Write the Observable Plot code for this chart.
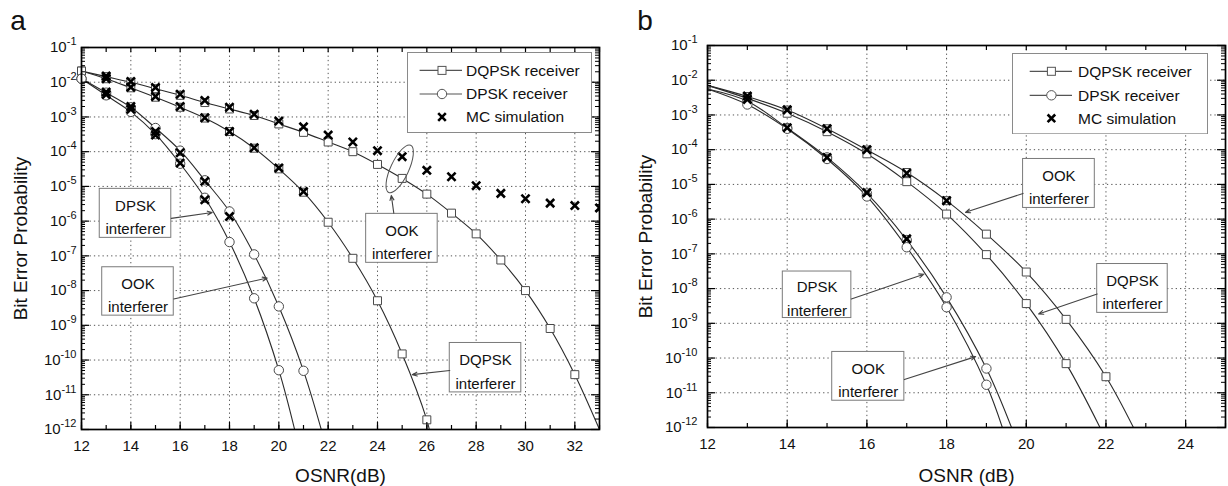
<!DOCTYPE html>
<html><head><meta charset="utf-8">
<script src="https://cdn.jsdelivr.net/npm/d3@7"></script>
<script src="https://cdn.jsdelivr.net/npm/@observablehq/plot@0.6"></script>
<style>
body{margin:0;background:#fff;}
#wrap{position:relative;width:1228px;height:486px;overflow:hidden;font-family:"Liberation Sans",Arial,Helvetica,sans-serif;}
#wrap svg{position:absolute;top:0;}
</style></head><body><div id="wrap"></div>
<script>
// ---------------- Panel a data ----------------
// DQPSK receiver, OOK interferer
const aOsnr1 = [12,13,14,15,16,17,18,19,20,21,22,23,24,25,26,27,28,29,30,31,32];
const aBer1  = [2.1e-2,1.45e-2,1.0e-2,6.5e-3,4.2e-3,2.6e-3,1.7e-3,1.1e-3,6.3e-4,3.6e-4,1.9e-4,1.0e-4,4.3e-5,1.7e-5,6.0e-6,1.7e-6,4.3e-7,7.6e-8,1.0e-8,8.1e-10,3.8e-11];
const aEnd1  = [33, 1.0e-12];
// DQPSK receiver, DQPSK interferer
const aOsnr2 = [12,13,14,15,16,17,18,19,20,21,22,23,24,25,26];
const aBer2  = [2.1e-2,1.26e-2,6.9e-3,3.7e-3,1.9e-3,9.3e-4,3.8e-4,1.26e-4,3.2e-5,6.8e-6,9.3e-7,8.5e-8,5.1e-9,1.5e-10,1.9e-12];
const aEnd2  = [26.1, 1.0e-12];
// DPSK receiver, OOK interferer
const aOsnr3 = [12,13,14,15,16,17,18,19,20,21];
const aBer3  = [1.26e-2,5.0e-3,1.9e-3,4.8e-4,1.07e-4,1.5e-5,1.9e-6,1.1e-7,3.5e-9,4.9e-11];
const aEnd3  = [21.72, 1.0e-12];
// DPSK receiver, DPSK interferer
const aOsnr4 = [12,13,14,15,16,17,18,19,20];
const aBer4  = [1.26e-2,4.2e-3,1.4e-3,3.2e-4,4.5e-5,4.7e-6,2.5e-7,6.0e-9,5.1e-11];
const aEnd4  = [20.64, 1.0e-12];
// MC simulation
const aMcOsnr1 = [13,14,15,16,17,18,19,20,21,22,23,24,25,26,27,28,29,30,31,32,33];
const aMcBer1  = [1.5e-2,1.05e-2,7.1e-3,4.5e-3,3.0e-3,1.9e-3,1.2e-3,7.6e-4,5.2e-4,3.0e-4,1.9e-4,1.07e-4,7.2e-5,2.9e-5,1.9e-5,1.05e-5,6.3e-6,4.4e-6,3.3e-6,2.8e-6,2.4e-6];
const aMcOsnr2 = [13,14,15,16,17,18,19,20,21];
const aMcBer2  = [1.26e-2,7.2e-3,3.9e-3,2.0e-3,9.5e-4,3.8e-4,1.3e-4,3.4e-5,7.1e-6];
const aMcOsnr3 = [13,14,15,16,17,18];
const aMcBer3  = [5.2e-3,2.0e-3,3.8e-4,9.3e-5,1.4e-5,1.35e-6];
const aMcOsnr4 = [13,14,15,16,17];
const aMcBer4  = [4.4e-3,1.66e-3,3.0e-4,4.7e-5,4.1e-6];

// ---------------- Panel b data ----------------
// DQPSK receiver, OOK interferer
const bStart1 = [12, 7.1e-3];
const bOsnr1 = [13,14,15,16,17,18,19,20,21,22];
const bBer1  = [3.4e-3,1.38e-3,4.0e-4,9.8e-5,2.2e-5,3.4e-6,3.7e-7,3.0e-8,1.3e-9,2.9e-11];
const bEnd1  = [22.69, 1.0e-12];
// DQPSK receiver, DQPSK interferer
const bStart2 = [12, 7.1e-3];
const bOsnr2 = [13,14,15,16,17,18,19,20,21];
const bBer2  = [3.0e-3,1.12e-3,3.3e-4,7.6e-5,1.2e-5,1.4e-6,9.5e-8,3.7e-9,6.9e-11];
const bEnd2  = [21.85, 1.0e-12];
// DPSK receiver, OOK interferer
const bStart3 = [12, 5.6e-3];
const bOsnr3 = [13,14,15,16,17,18,19];
const bBer3  = [2.5e-3,4.2e-4,6.0e-5,5.5e-6,2.5e-7,5.6e-9,5.0e-11];
const bEnd3  = [19.63, 1.0e-12];
// DPSK receiver, DPSK interferer
const bStart4 = [12, 5.6e-3];
const bOsnr4 = [13,14,15,16,17,18,19];
const bBer4  = [2.0e-3,4.0e-4,5.4e-5,4.5e-6,1.55e-7,2.9e-9,1.7e-11];
const bEnd4  = [19.4, 1.0e-12];
// MC simulation
const bMcOsnr1 = [13,14,15,16,17,18];
const bMcBer1  = [3.5e-3,1.4e-3,4.0e-4,1.0e-4,2.1e-5,3.4e-6];
const bMcOsnr3 = [13,14,15,16,17];
const bMcBer3  = [2.8e-3,4.3e-4,6.0e-5,5.8e-6,2.7e-7];

// ---------------- Axes / labels ----------------
const decades = [1e-12,1e-11,1e-10,1e-9,1e-8,1e-7,1e-6,1e-5,1e-4,1e-3,1e-2,1e-1];
const aXTicks = [12,14,16,18,20,22,24,26,28,30,32];
const bXTicks = [12,14,16,18,20,22,24];
const legendLabels = ["DQPSK receiver","DPSK receiver","MC simulation"];
const yTitle = "Bit Error Probability";

// annotations (data coordinates: OSNR, BER)
const aNotes = [
  {label:"DPSK\ninterferer", x1:12.74, x2:15.64, y1:8.5e-6, y2:3.3e-7, ax1:15.64, ay1:1.2e-6, ax2:17.30, ay2:1.78e-6},
  {label:"OOK\ninterferer", x1:12.84, x2:15.74, y1:4.7e-8, y2:1.9e-9, ax1:15.74, ay1:5.75e-9, ax2:19.53, ay2:2.3e-8},
  {label:"OOK\ninterferer", x1:23.54, x2:26.44, y1:1.62e-6, y2:6.3e-8, ax1:24.66, ay1:1.7e-6, ax2:24.56, ay2:5.5e-6},
  {label:"DQPSK\ninterferer", x1:26.93, x2:29.83, y1:3.1e-10, y2:1.17e-11, ax1:26.93, ay1:5.0e-11, ax2:25.41, ay2:3.8e-11}
];
const aEllipse = [{x:24.9, y:3.2e-5}];
const bNotes = [
  {label:"OOK\ninterferer", x1:19.92, x2:21.72, y1:5.4e-5, y2:2.1e-6, ax1:19.92, ay1:5.5e-6, ax2:18.475, ay2:1.57e-6},
  {label:"DPSK\ninterferer", x1:13.89, x2:15.61, y1:3.1e-8, y2:1.42e-9, ax1:15.61, ay1:5.0e-9, ax2:17.43, ay2:2.6e-8},
  {label:"OOK\ninterferer", x1:15.13, x2:16.94, y1:1.5e-10, y2:5.9e-12, ax1:16.94, ay1:2.4e-11, ax2:18.73, ay2:1.1e-10},
  {label:"DQPSK\ninterferer", x1:21.78, x2:23.55, y1:5.1e-8, y2:2.0e-9, ax1:21.78, ay1:7.0e-9, ax2:20.31, ay2:1.86e-9}
];

// ---------------- Drawing ----------------
const FONT = '"Liberation Sans", Arial, Helvetica, sans-serif';
const minorY = d3.scaleLog().domain([1e-12,1e-1]).ticks(30)
  .filter(d => Math.abs(Math.log10(d) - Math.round(Math.log10(d))) > 1e-6);

const ellipseSymbol = {
  draw(ctx) {
    const rx = 9, ry = 26, k = 0.5523;
    ctx.moveTo(0, -ry);
    ctx.bezierCurveTo(k*rx, -ry, rx, -k*ry, rx, 0);
    ctx.bezierCurveTo(rx, k*ry, k*rx, ry, 0, ry);
    ctx.bezierCurveTo(-k*rx, ry, -rx, k*ry, -rx, 0);
    ctx.bezierCurveTo(-rx, -k*ry, -k*rx, -ry, 0, -ry);
    ctx.closePath();
  }
};

function pts(osnr, ber) { return osnr.map((x, i) => ({x, y: ber[i]})); }

function panel(cfg) {
  const {left, width, height, mt, mr, mb, ml, xDomain, xTicks, curves, mcs, notes, ellipses,
         letter, letterDx, letterDy, xTitle, xTitleDy, yTitleDx, yPad} = cfg;
  const FH = height - mt - mb, FW = width - ml - mr;
  const lineData = curves.flatMap((c, k) => {
    const p = [];
    if (c.start) p.push({x: c.start[0], y: c.start[1], k});
    c.osnr.forEach((x, i) => p.push({x, y: c.ber[i], k}));
    if (c.end) p.push({x: c.end[0], y: c.end[1], k});
    return p;
  });
  const squares = curves.filter(c => c.kind === "square").flatMap(c => pts(c.osnr, c.ber));
  const circles = curves.filter(c => c.kind === "circle").flatMap(c => pts(c.osnr, c.ber));
  const crosses = mcs.flatMap(m => pts(m.osnr, m.ber));
  const allX = d3.range(xDomain[0], xDomain[1] + 1);
  const gridX = xTicks.filter(x => x > xDomain[0] && x < xDomain[1]);
  const gridY = decades.filter(d => d > 1e-12 && d < 1e-1);
  const tickStyle = {stroke: "#000", strokeWidth: 1.2};

  const svg = Plot.plot({
    width, height, marginTop: mt, marginRight: mr, marginBottom: mb, marginLeft: ml,
    style: {fontFamily: FONT, background: "transparent", color: "#111"},
    x: {domain: xDomain, label: null},
    y: {type: "log", domain: [1e-12, 1e-1], label: null},
    marks: [
      Plot.ruleX(gridX, {x: d => d, stroke: "#555", strokeWidth: 1, strokeDasharray: "1.3,3"}),
      Plot.ruleY(gridY, {y: d => d, stroke: "#555", strokeWidth: 1, strokeDasharray: "1.3,3"}),
      Plot.line(lineData, {x: "x", y: "y", z: "k", curve: "catmull-rom", stroke: "#2a2a2a", strokeWidth: 1.1, clip: true}),
      Plot.rect(notes, {x1: "x1", x2: "x2", y1: "y1", y2: "y2", fill: "white", stroke: "#7a7a7a", strokeWidth: 1}),
      Plot.text(notes, {x: d => (d.x1 + d.x2) / 2, y: d => Math.sqrt(d.y1 * d.y2), text: "label",
        fontSize: 15, lineHeight: 1.58, dy: 1.5, fill: "#111"}),
      Plot.arrow(notes, {x1: "ax1", y1: "ay1", x2: "ax2", y2: "ay2", stroke: "#444", strokeWidth: 1.1, headLength: 7, headAngle: 45}),
      Plot.dot(squares, {x: "x", y: "y", symbol: "square", r: 4.5, fill: "white", stroke: "#4a4a4a", strokeWidth: 1}),
      Plot.dot(circles, {x: "x", y: "y", symbol: "circle", r: 4.7, fill: "white", stroke: "#4a4a4a", strokeWidth: 1}),
      Plot.dot(crosses, {x: "x", y: "y", symbol: "times", r: 3.8, stroke: "#000", strokeWidth: 2.6, clip: true}),
      Plot.dot(ellipses, {x: "x", y: "y", symbol: ellipseSymbol, rotate: 25, fill: "none", stroke: "#555", strokeWidth: 1}),
      // inward ticks
      Plot.ruleX(allX, {x: d => d, insetTop: FH - 4, ...tickStyle}),
      Plot.ruleX(xTicks, {x: d => d, insetTop: FH - 7, ...tickStyle}),
      Plot.ruleX(allX, {x: d => d, insetBottom: FH - 5, ...tickStyle}),
      Plot.ruleY(minorY, {y: d => d, insetRight: FW - 4, stroke: "#000", strokeWidth: 1}),
      Plot.ruleY(decades, {y: d => d, insetRight: FW - 8, ...tickStyle}),
      Plot.ruleY(minorY, {y: d => d, insetLeft: FW - 4, stroke: "#000", strokeWidth: 1}),
      Plot.ruleY(decades, {y: d => d, insetLeft: FW - 8, ...tickStyle}),
      Plot.frame({stroke: "#000", strokeWidth: 1.7}),
      Plot.axisX(xTicks, {anchor: "bottom", tickSize: 0, tickPadding: 11, fontSize: 15, label: null}),
      Plot.axisY(decades, {anchor: "left", tickSize: 0, tickPadding: yPad, fontSize: 15, label: null,
        tickFormat: d => String(Math.round(Math.log10(d)))}),
      Plot.text([xTitle], {frameAnchor: "bottom", dy: xTitleDy, fontSize: 19, textAnchor: "middle", lineAnchor: "middle", fill: "#111"}),
      Plot.text([yTitle], {frameAnchor: "left", dx: yTitleDx, rotate: -90, fontSize: 19, textAnchor: "middle", lineAnchor: "middle", fill: "#111"}),
      Plot.text([letter], {frameAnchor: "top-left", dx: letterDx, dy: letterDy, fontSize: 28, textAnchor: "middle", lineAnchor: "middle", fill: "#111"})
    ]
  });
  // superscript exponents on the y tick labels
  const ns = "http://www.w3.org/2000/svg";
  svg.querySelectorAll('[aria-label="y-axis tick label"] text').forEach(t => {
    const e = t.textContent;
    t.textContent = "10";
    const ts = document.createElementNS(ns, "tspan");
    ts.setAttribute("dy", "-7");
    ts.setAttribute("font-size", "11");
    ts.textContent = e;
    t.appendChild(ts);
  });
  svg.style.left = left + "px";
  return svg;
}

function legend(left, top, w, h, rowsY, lx1, lx2, mx, tx) {
  const kinds = ["square", "circle", "cross"];
  let s = `<svg width="${w}" height="${h}" style="left:${left}px;top:${top}px" xmlns="http://www.w3.org/2000/svg">`;
  s += `<rect x="0.5" y="0.5" width="${w - 1}" height="${h - 1}" fill="white" stroke="#8a8a8a" stroke-width="1"/>`;
  legendLabels.forEach((lab, i) => {
    const y = rowsY[i], kind = kinds[i];
    if (kind !== "cross") s += `<line x1="${lx1}" x2="${lx2}" y1="${y}" y2="${y}" stroke="#555" stroke-width="1.2"/>`;
    if (kind === "square") s += `<rect x="${mx - 4}" y="${y - 4}" width="8" height="8" fill="white" stroke="#555"/>`;
    if (kind === "circle") s += `<circle cx="${mx}" cy="${y}" r="4.7" fill="white" stroke="#555"/>`;
    if (kind === "cross") s += `<path d="M${mx - 3.8},${y - 3.8}L${mx + 3.8},${y + 3.8}M${mx - 3.8},${y + 3.8}L${mx + 3.8},${y - 3.8}" stroke="#000" stroke-width="2.6"/>`;
    s += `<text x="${tx}" y="${y}" dy="0.35em" font-size="15.5" font-family='${FONT}' fill="#111">${lab}</text>`;
  });
  s += `</svg>`;
  return s;
}

const wrap = document.getElementById("wrap");
wrap.appendChild(panel({
  left: 0, width: 614, height: 486, mt: 47, mr: 15, mb: 57, ml: 81,
  xDomain: [12, 33], xTicks: aXTicks,
  curves: [
    {kind: "square", osnr: aOsnr1, ber: aBer1, end: aEnd1},
    {kind: "square", osnr: aOsnr2, ber: aBer2, end: aEnd2},
    {kind: "circle", osnr: aOsnr3, ber: aBer3, end: aEnd3},
    {kind: "circle", osnr: aOsnr4, ber: aBer4, end: aEnd4}
  ],
  mcs: [
    {osnr: aMcOsnr1, ber: aMcBer1}, {osnr: aMcOsnr2, ber: aMcBer2},
    {osnr: aMcOsnr3, ber: aMcBer3}, {osnr: aMcOsnr4, ber: aMcBer4}
  ],
  notes: aNotes, ellipses: aEllipse,
  letter: "a", letterDx: -63.5, letterDy: -26, xTitle: "OSNR(dB)", xTitleDy: 46, yTitleDx: -61, yPad: 5
}));
wrap.appendChild(panel({
  left: 614, width: 614, height: 486, mt: 45, mr: 3, mb: 59, ml: 93,
  xDomain: [12, 25], xTicks: bXTicks,
  curves: [
    {kind: "square", start: bStart1, osnr: bOsnr1, ber: bBer1, end: bEnd1},
    {kind: "square", start: bStart2, osnr: bOsnr2, ber: bBer2, end: bEnd2},
    {kind: "circle", start: bStart3, osnr: bOsnr3, ber: bBer3, end: bEnd3},
    {kind: "circle", start: bStart4, osnr: bOsnr4, ber: bBer4, end: bEnd4}
  ],
  mcs: [{osnr: bMcOsnr1, ber: bMcBer1}, {osnr: bMcOsnr3, ber: bMcBer3}],
  notes: bNotes, ellipses: [],
  letter: "b", letterDx: -62.5, letterDy: -24, xTitle: "OSNR (dB)", xTitleDy: 48, yTitleDx: -62, yPad: 10
}));
wrap.insertAdjacentHTML("beforeend", legend(406.7, 52.3, 185, 81, [18.4, 42, 65], 12.6, 55, 35, 59));
wrap.insertAdjacentHTML("beforeend", legend(1012.3, 52.7, 196, 81.3, [18.3, 42.3, 65.3], 17.7, 60, 39.4, 66));
</script>
</body></html>
